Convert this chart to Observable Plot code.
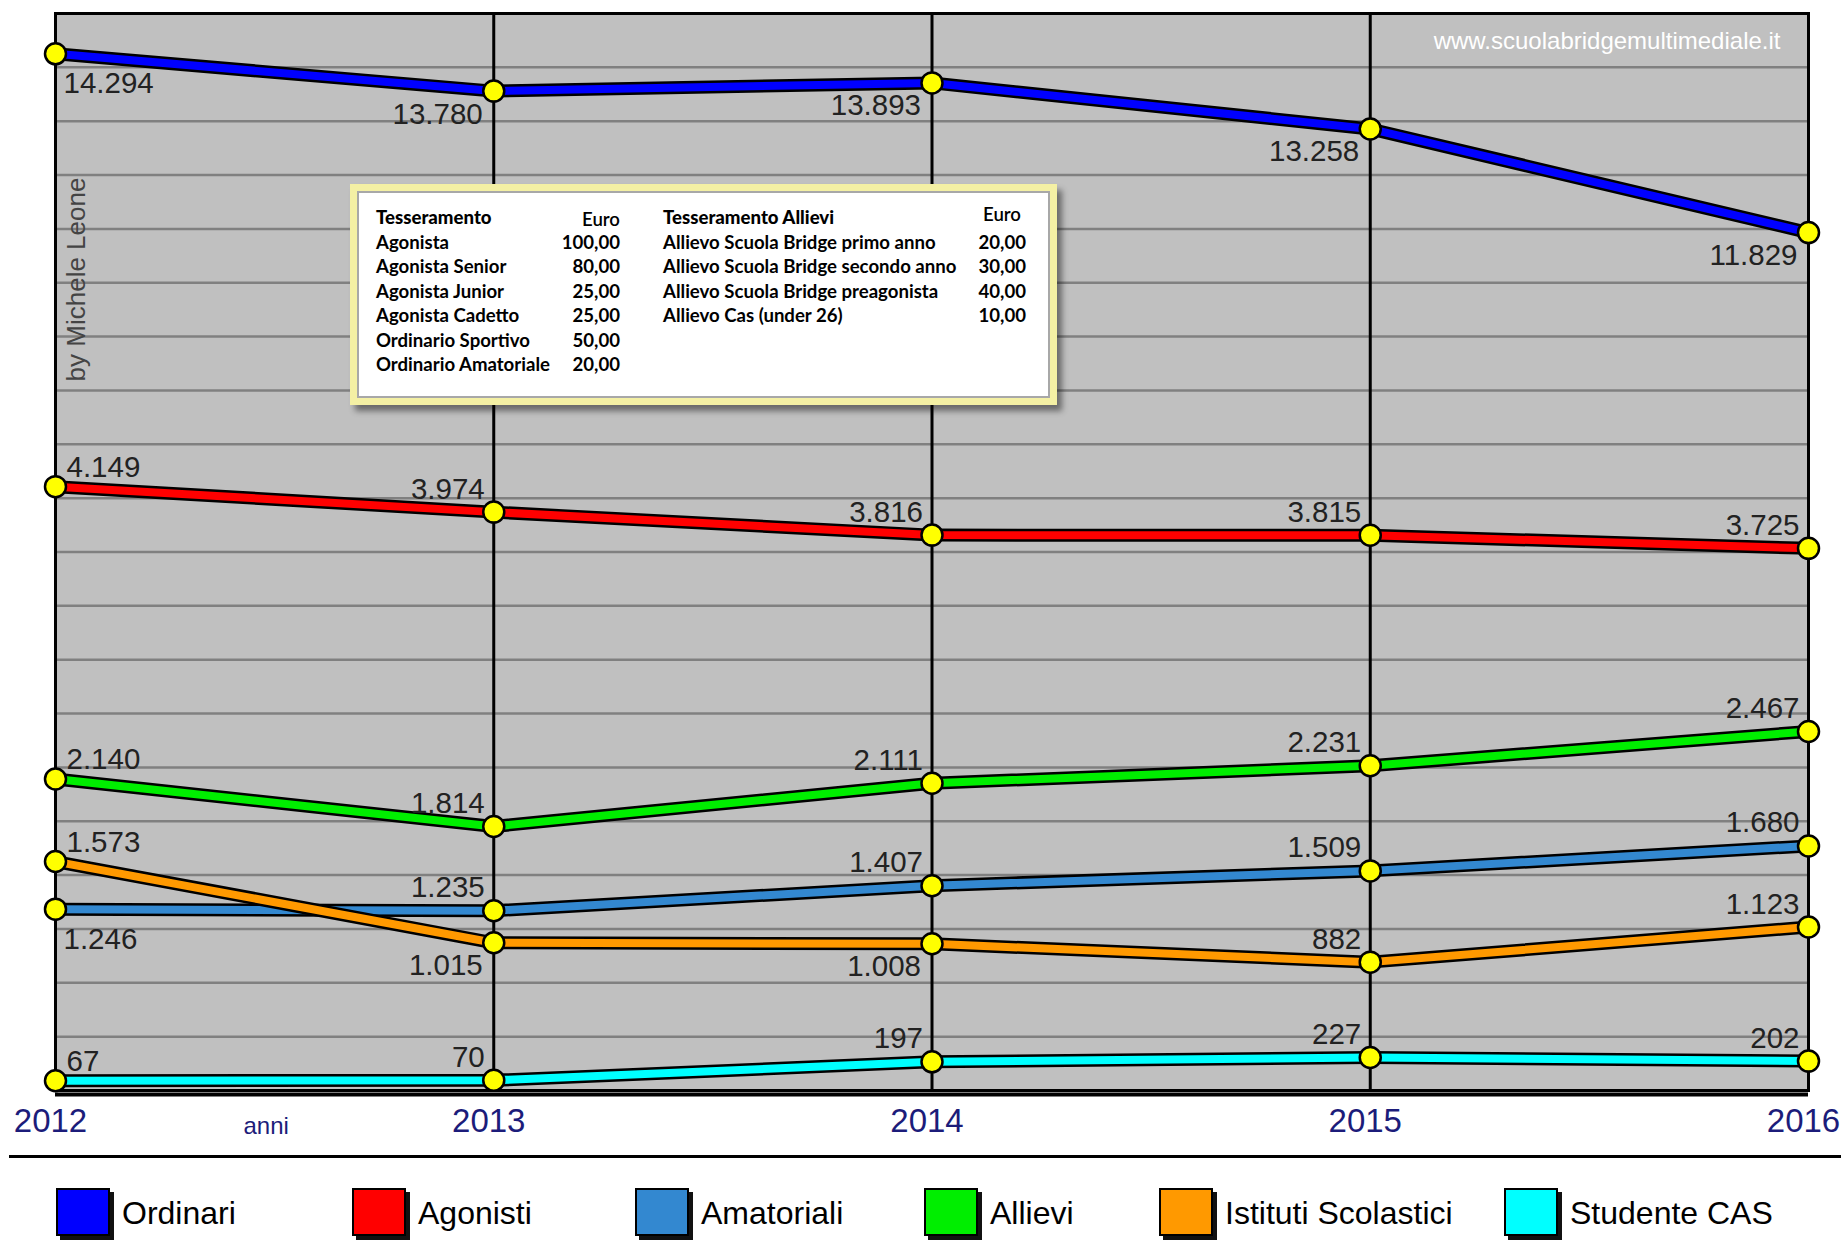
<!DOCTYPE html>
<html><head><meta charset="utf-8">
<script src="https://cdn.jsdelivr.net/npm/d3@7"></script>
<script src="https://cdn.jsdelivr.net/npm/@observablehq/plot@0.6"></script>
<style>
body{margin:0;background:#fff;}
#wrap{position:relative;width:1841px;height:1241px;overflow:hidden;background:#fff;}
#chart{position:absolute;left:0;top:0;}
.sans{font-family:'Liberation Sans',Arial,sans-serif;}
#sep{position:absolute;left:9px;top:1155px;width:1832px;height:3px;background:#000;}
.leg-sw{position:absolute;top:1188px;width:54px;height:48px;border:2px solid #000;box-shadow:4px 4px 0 #111;box-sizing:border-box;}
.leg-tx{position:absolute;top:1213px;transform:translateY(-50%);font-size:32px;color:#000;white-space:nowrap;}
#info{position:absolute;left:350px;top:184px;width:707px;height:221px;background:#f4f0a4;box-sizing:border-box;padding:7px;box-shadow:5px 6px 6px rgba(0,0,0,0.45);}
#info .inner{position:relative;width:100%;height:100%;background:#fff;border:2px solid #a8a8a8;box-sizing:border-box;font-family:Lato,'Open Sans',sans-serif;font-weight:700;font-size:18.6px;color:#000;}
#info span{position:absolute;white-space:nowrap;line-height:20px;}
</style></head><body><div id="wrap"><div id="chart"></div></div>
<script>
// ---- data ----
const years = [2012, 2013, 2014, 2015, 2016];
const seriesNames = ["Ordinari", "Agonisti", "Amatoriali", "Allievi", "Istituti Scolastici", "Studente CAS"];
const ordinari   = [14294, 13780, 13893, 13258, 11829];
const agonisti   = [4149, 3974, 3816, 3815, 3725];
const amatoriali = [1246, 1235, 1407, 1509, 1680];
const allievi    = [2140, 1814, 2111, 2231, 2467];
const istituti   = [1573, 1015, 1008, 882, 1123];
const studenteCAS = [67, 70, 197, 227, 202];
const seriesValues = [ordinari, agonisti, amatoriali, allievi, istituti, studenteCAS];
// primary axis max, and the secondary axis (used by Ordinari in the original) max
const yMax = 7400, yMax2 = 14850, gridStep = 370;
const onSecondary = [true, false, false, false, false, false];

const feeHead1 = ["Tesseramento", "Euro"];
const feeLabels1 = ["Agonista", "Agonista Senior", "Agonista Junior", "Agonista Cadetto", "Ordinario Sportivo", "Ordinario Amatoriale"];
const feeValues1 = ["100,00", "80,00", "25,00", "25,00", "50,00", "20,00"];
const feeHead2 = ["Tesseramento Allievi", "Euro"];
const feeLabels2 = ["Allievo Scuola Bridge primo anno", "Allievo Scuola Bridge secondo anno", "Allievo Scuola Bridge preagonista", "Allievo Cas (under 26)"];
const feeValues2 = ["20,00", "30,00", "40,00", "10,00"];

// ---- styles ----
const colors = ["#0000ff", "#ff0000", "#3388d0", "#00ee00", "#ff9900", "#00ffff"];
// label placement: a=above, b=below, l=left of point, r=right of point
const labelPlacement = [
  ["br","bl","bl","bl","bl"],
  ["ar","al","al","al","al"],
  ["br","al","al","al","al"],
  ["ar","al","al","al","al"],
  ["ar","bl","bl","al","al"],
  ["ar","al","al","al","al"]
];
const legendLeft = [56, 352, 635, 924, 1159, 1504];
const sans = "'Liberation Sans',Arial,sans-serif";

const fmt = d3.formatLocale({decimal: ",", thousands: ".", grouping: [3], currency: ["", "€"]}).format(",d");

// secondary-axis values are mapped onto the primary scale
const rows = seriesNames.flatMap((name, si) => years.map((yr, i) => ({
  series: name, si, year: yr, value: seriesValues[si][i],
  pv: onSecondary[si] ? seriesValues[si][i] * yMax / yMax2 : seriesValues[si][i],
  place: labelPlacement[si][i]
})));
const gridTicks = d3.range(0, yMax + 1, gridStep);

const seriesMarks = seriesNames.flatMap((name, si) => {
  const d = rows.filter(r => r.si === si);
  return [
    Plot.line(d, {x: "year", y: "pv", stroke: "#000", strokeWidth: 13, strokeLinejoin: "round"}),
    Plot.line(d, {x: "year", y: "pv", stroke: colors[si], strokeWidth: 8, strokeLinejoin: "round"})
  ];
});

const labelMark = (place, anchor, dx, dy) => Plot.text(rows.filter(r => r.place === place), {
  x: "year", y: "pv", text: d => fmt(d.value), textAnchor: anchor, lineAnchor: "middle",
  dx, dy, fontSize: 29.5, fill: "#222", fontFamily: sans
});

const chart = Plot.plot({
  width: 1841, height: 1150,
  marginLeft: 55, marginRight: 33, marginTop: 13, marginBottom: 60,
  style: {fontFamily: sans, background: "transparent"},
  x: {type: "linear", domain: [2012, 2016], axis: null},
  y: {domain: [0, yMax], axis: null},
  marks: [
    Plot.frame({fill: "#c0c0c0"}),
    Plot.ruleY(gridTicks, {stroke: "#808080", strokeWidth: 2.5}),
    Plot.ruleX(years, {stroke: "#000", strokeWidth: 3}),
    Plot.frame({stroke: "#000", strokeWidth: 3}),
    Plot.ruleY([0], {stroke: "#000", strokeWidth: 4, dy: 4}),
    Plot.axisX({ticks: years, tickFormat: d => String(d), tickSize: 0, tickPadding: 18, dx: -5, fontSize: 33, color: "#1c1c7a", label: null, fontFamily: sans}),
    Plot.text(["anni"], {text: d => d, frameAnchor: "bottom-left", dx: 188, dy: 36, fontSize: 24, fill: "#1c1c7a", lineAnchor: "middle", fontFamily: sans}),
    Plot.text(["www.scuolabridgemultimediale.it"], {text: d => d, frameAnchor: "top-right", dx: -28, dy: 28, fill: "#fff", fontSize: 24, textAnchor: "end", lineAnchor: "middle", fontFamily: sans}),
    Plot.text(["by Michele Leone"], {text: d => d, frameAnchor: "top-left", rotate: -90, textAnchor: "middle", lineAnchor: "middle", dx: 21, dy: 266, fill: "#444", fontSize: 26, fontFamily: sans}),
    ...seriesMarks,
    Plot.dot(rows, {x: "year", y: "pv", r: 10.5, fill: "#ffff00", stroke: "#000", strokeWidth: 2.5}),
    labelMark("ar", "start", 11, -19),
    labelMark("al", "end", -9, -23),
    labelMark("br", "start", 8, 30),
    labelMark("bl", "end", -11, 23)
  ]
});
document.getElementById("chart").appendChild(chart);

const wrap = document.getElementById("wrap");

// info box
const info = document.createElement("div");
info.id = "info";
const inner = document.createElement("div");
inner.className = "inner";
info.appendChild(inner);
const rowTop = i => 24 + i * 24.5 - 10;
function addSpan(txt, left, right, top, extra) {
  const s = document.createElement("span");
  s.textContent = txt;
  if (left != null) s.style.left = left + "px";
  if (right != null) s.style.right = right + "px";
  s.style.top = top + "px";
  if (extra) Object.assign(s.style, extra);
  inner.appendChild(s);
}
addSpan(feeHead1[0], 17, null, rowTop(0), {fontWeight: 900});
addSpan(feeHead1[1], null, 428, rowTop(0) + 2, {fontWeight: 600});
feeLabels1.forEach((t, i) => { addSpan(t, 17, null, rowTop(i + 1)); addSpan(feeValues1[i], null, 428, rowTop(i + 1)); });
addSpan(feeHead2[0], 304, null, rowTop(0), {fontWeight: 900});
addSpan(feeHead2[1], null, 27, rowTop(0) - 3, {fontWeight: 600});
feeLabels2.forEach((t, i) => { addSpan(t, 304, null, rowTop(i + 1)); addSpan(feeValues2[i], null, 22, rowTop(i + 1)); });
wrap.appendChild(info);

// separator line
const sep = document.createElement("div");
sep.id = "sep";
wrap.appendChild(sep);

// legend
seriesNames.forEach((name, i) => {
  const sw = document.createElement("div");
  sw.className = "leg-sw";
  sw.style.left = legendLeft[i] + "px";
  sw.style.background = colors[i];
  wrap.appendChild(sw);
  const tx = document.createElement("div");
  tx.className = "leg-tx sans";
  tx.style.left = (legendLeft[i] + 66) + "px";
  tx.textContent = name;
  wrap.appendChild(tx);
});
</script></body></html>
